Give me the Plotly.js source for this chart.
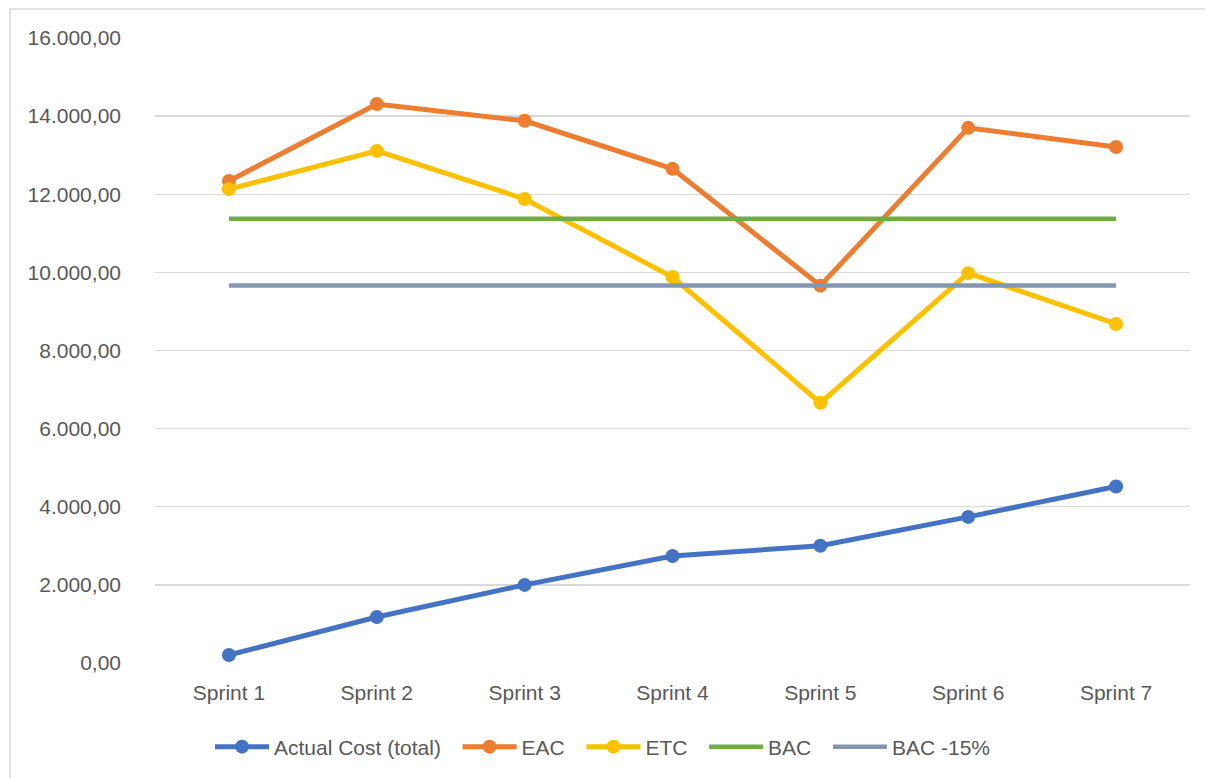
<!DOCTYPE html>
<html>
<head>
<meta charset="utf-8">
<script src="https://cdn.plot.ly/plotly-3.0.1.min.js"></script>
<style>
  html, body { margin: 0; padding: 0; background: #ffffff; }
  #chart { width: 1205px; height: 778px; }
</style>
</head>
<body>
<div id="chart"></div>
<script>
// ---- data ----
var categories = ["Sprint 1", "Sprint 2", "Sprint 3", "Sprint 4", "Sprint 5", "Sprint 6", "Sprint 7"];
var actualCost = [205, 1178, 2000, 2740, 3000, 3740, 4520];
var eac = [12340, 14310, 13880, 12650, 9660, 13700, 13210];
var etc = [12130, 13110, 11880, 9880, 6660, 9980, 8680];
var bac = [11370, 11370, 11370, 11370, 11370, 11370, 11370];
var bac15 = [9664, 9664, 9664, 9664, 9664, 9664, 9664];
var seriesNames = ["Actual Cost (total)", "EAC", "ETC", "BAC", "BAC -15%"];
var yTicks = [0, 2000, 4000, 6000, 8000, 10000, 12000, 14000, 16000];

var colors = ["#4472C4", "#ED7D31", "#FFC000", "#70AD47", "#8497B0"];
var FONT = "Liberation Sans, Arial, sans-serif";
var GAP = "\u00a0\u00a0";

function lineTrace(y, i, withMarkers) {
  return {
    x: categories,
    y: y,
    name: seriesNames[i] + (i < seriesNames.length - 1 ? GAP : ""),
    type: "scatter",
    mode: withMarkers ? "lines+markers" : "lines",
    line: { color: colors[i], width: withMarkers ? 5 : 4.5 },
    marker: { color: colors[i], size: 14 },
    hoverinfo: "skip"
  };
}

var traces = [
  lineTrace(actualCost, 0, true),
  lineTrace(eac, 1, true),
  lineTrace(etc, 2, true),
  lineTrace(bac, 3, false),
  lineTrace(bac15, 4, false)
];

var layout = {
  width: 1205,
  height: 778,
  margin: { l: 155, r: 15, t: 38, b: 115, pad: 0 },
  paper_bgcolor: "#ffffff",
  plot_bgcolor: "#ffffff",
  separators: ",.",
  font: { family: FONT, color: "#595959", size: 21 },
  showlegend: true,
  legend: {
    orientation: "h",
    xref: "container",
    yref: "container",
    x: 0.5,
    xanchor: "center",
    y: 1 - 747 / 778,
    yanchor: "middle",
    itemwidth: 54,
    font: { family: FONT, color: "#595959", size: 21 },
    itemclick: false,
    itemdoubleclick: false
  },
  xaxis: {
    type: "category",
    range: [-0.5, 6.5],
    showgrid: false,
    showline: false,
    zeroline: false,
    ticks: "",
    ticklabelstandoff: 15,
    tickfont: { family: FONT, color: "#595959", size: 21 },
    fixedrange: true
  },
  yaxis: {
    range: [0, 16000],
    tickvals: yTicks,
    tickformat: ",.2f",
    showgrid: true,
    gridcolor: "#d9d9d9",
    gridwidth: 1.3,
    zeroline: false,
    showline: false,
    ticks: "",
    ticklabelstandoff: 33,
    tickfont: { family: FONT, color: "#595959", size: 21 },
    fixedrange: true
  },
  shapes: [
    {
      type: "rect",
      xref: "paper",
      yref: "paper",
      x0: (10 - 155) / 1035,
      x1: 1.2,
      y0: -0.4,
      y1: (663 - 9) / 625,
      line: { color: "#d9d9d9", width: 1.5 },
      fillcolor: "rgba(0,0,0,0)",
      layer: "below"
    }
  ]
};

Plotly.newPlot("chart", traces, layout, { displayModeBar: false, staticPlot: true });
</script>
</body>
</html>
